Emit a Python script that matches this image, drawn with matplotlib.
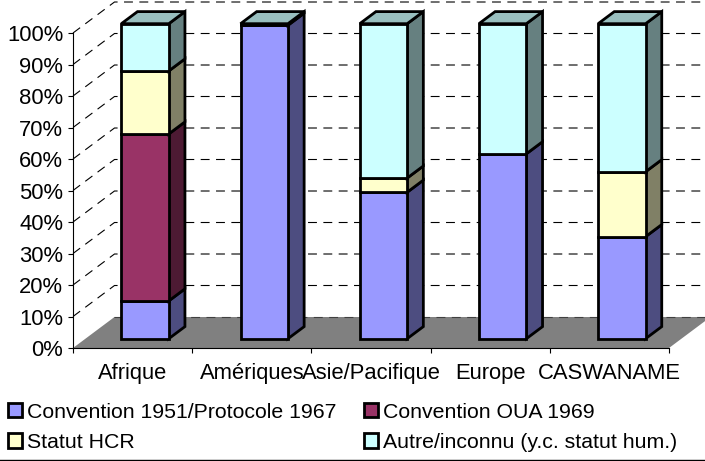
import matplotlib
matplotlib.use('Agg')
import matplotlib.pyplot as plt
from matplotlib.patches import Patch

plt.rcParams['font.family'] = ['Liberation Sans', 'DejaVu Sans']

categories = ['Afrique', 'Amériques', 'Asie/Pacifique', 'Europe', 'CASWANAME']
convention_1951 = [12, 99.5, 46.5, 58.7, 32.4]
convention_oua = [53, 0, 0, 0, 0]
statut_hcr = [20, 0, 4.5, 0, 20.6]
autre_inconnu = [15, 0.5, 49, 41.3, 47]
y_ticks = [0, 10, 20, 30, 40, 50, 60, 70, 80, 90, 100]

series = [
    ('Convention 1951/Protocole 1967', convention_1951, '#9999FF', '#4D4D80'),
    ('Convention OUA 1969', convention_oua, '#993366', '#4D1A33'),
    ('Statut HCR', statut_hcr, '#FFFFCC', '#808066'),
    ('Autre/inconnu (y.c. statut hum.)', autre_inconnu, '#CCFFFF', '#668080'),
]

W, H = 705, 461
# oblique depth of the chart box, in data units
DEPTH_X = 0.348
DEPTH_Y = 9.84
BAR_WIDTH = 0.398
BAR_FRONT = 0.30
BAR_BACK = 0.69
EDGE = 2.0


def project(x, y, depth=0.0):
    return x + depth * DEPTH_X, y + depth * DEPTH_Y


def face(points, color, zorder, lw=EDGE, edge='black'):
    xy = [project(*p) for p in points]
    ax.fill([p[0] for p in xy], [p[1] for p in xy], facecolor=color, edgecolor=edge,
            linewidth=lw, joinstyle='miter', clip_on=False, zorder=zorder)


fig = plt.figure(figsize=(W / 100, H / 100), dpi=100)
ax = fig.add_axes([73 / W, 1 - 348 / H, (669 - 73) / W, (348 - 33) / H])
ax.patch.set_alpha(0)
n = len(categories)
ax.set_xlim(0, n)
ax.set_ylim(0, 100)

for s in ['top', 'right']:
    ax.spines[s].set_visible(False)
for s in ['left', 'bottom']:
    ax.spines[s].set_linewidth(0.8)
    ax.spines[s].set_zorder(6)

# floor
face([(0, 0, 0), (n, 0, 0), (n, 0, 1), (0, 0, 1)], '#808080', 1, lw=0)

# gridlines on the back wall and the left wall
for v in y_ticks[1:]:
    xs, ys = zip(project(0, v, 0), project(0, v, 1), project(n + 0.2, v, 1))
    ax.plot(xs, ys, color='black', lw=0.8, dashes=(8, 5.8), clip_on=False, zorder=2)
xs, ys = zip(project(0, 0, 1), project(n + 0.2, 0, 1))
ax.plot(xs, ys, color='#404040', lw=0.8, dashes=(8, 5.8), clip_on=False, zorder=2)

# stacked bars, drawn bottom up
zorder = 3
for i in range(n):
    left = i + 0.5 - BAR_WIDTH / 2
    right = i + 0.5 + BAR_WIDTH / 2
    bottom = 0
    for label, values, color, dark in series:
        v = values[i]
        if v == 0:
            continue
        top = bottom + v
        face([(right, bottom, BAR_FRONT), (right, bottom, BAR_BACK), (right, top, BAR_BACK), (right, top, BAR_FRONT)], dark, zorder)
        face([(left, bottom, BAR_FRONT), (right, bottom, BAR_FRONT), (right, top, BAR_FRONT), (left, top, BAR_FRONT)], color, zorder)
        bottom = top
    face([(left, 100, BAR_FRONT), (right, 100, BAR_FRONT), (right, 100, BAR_BACK), (left, 100, BAR_BACK)], '#99BFBF', zorder)

ax.set_yticks(y_ticks)
ax.set_yticklabels([f'{v}%' for v in y_ticks])
ax.set_xticks(range(n + 1))
ax.set_xticklabels([])
ax.set_xticks([i + 0.5 for i in range(n)], minor=True)
ax.set_xticklabels(categories, minor=True)
ax.tick_params(axis='both', which='major', length=3.6, width=0.8, labelsize=15.8, pad=3.5)
ax.tick_params(axis='x', which='minor', length=0, labelsize=15.8, pad=10.7)

handles = [Patch(facecolor=s[2], edgecolor='black', linewidth=EDGE) for s in series]
labels = [s[0] for s in series]
# two columns, filled row by row
order = [0, 2, 1, 3]
fig.legend([handles[i] for i in order], [labels[i] for i in order], ncol=2, frameon=False,
           loc='lower left', bbox_to_anchor=(8 / W, 1 - 452 / H), bbox_transform=fig.transFigure,
           fontsize=15.3, handlelength=0.66, handleheight=0.66, handletextpad=0.24,
           borderpad=0, borderaxespad=0, columnspacing=1.3, labelspacing=0.53)

fig.add_artist(plt.Line2D([0, 1], [1 - 460 / H, 1 - 460 / H], color='black', lw=1))

fig.savefig('out.png', dpi=100)
